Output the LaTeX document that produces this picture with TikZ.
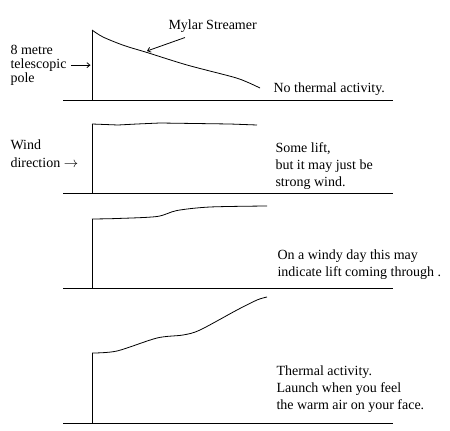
\documentclass[tikz,border=0pt]{standalone}
\usepackage{fontspec}
\setmainfont{Liberation Serif}
\usetikzlibrary{calc,arrows.meta}

\begin{document}
\begin{tikzpicture}[x=1pt,y=-1pt,line width=1pt,
  caption/.style={anchor=north west,inner sep=0pt,align=left,
    font=\fontsize{14}{17}\selectfont},
  streamer/.style={line width=0.8pt},
  pointer/.style={line width=0.8pt,-{Straight Barb[length=3pt,width=5pt]}}]
  \useasboundingbox (0,0) rectangle (450,431);

  %% Ground lines and the telescopic poles
  \foreach \i/\g/\t in {1/100/30, 2/193/124, 3/288/219, 4/423/353}
  {
    \coordinate (GL\i) at (63,\g);
    \coordinate (GR\i) at (393,\g);
    \coordinate (PB\i) at (92,\g);
    \coordinate (PT\i) at (92,\t);
    \draw (GL\i) -- (GR\i);
    \draw (PB\i) -- (PT\i);
  }

  %% Streamers
  \draw[streamer] plot[smooth] coordinates
    {(PT1) (103,37) (124,45.5) (147,52.5) (187,65) (233,77) (247,82) (260,88)};
  \draw[streamer] (PT2) -- (118,125) -- (137,124) -- (160,123)
    -- (230,124) -- (257,125);
  \draw[streamer] plot[smooth] coordinates
    {(PT3) (117,218.5) (157,216.5) (177,210.5) (210,207) (267,206)};
  \draw[streamer] plot[smooth] coordinates
    {(PT4) (117,351) (157,338) (183,335) (200,330) (237,310) (257,300) (267,297)};

  %% Labels on the left
  \coordinate (MS) at (147,51);
  \node[caption,anchor=base west] (mylar) at (168,29) {Mylar Streamer};
  \draw[pointer] ($(mylar.south west)+(17,5)$) -- (MS);

  \node[caption,font=\fontsize{14}{14}\selectfont] (polelabel) at (10,44.5)
    {8 metre\\telescopic\\pole};
  \draw[pointer] ([xshift=4pt]polelabel.east) -- ([xshift=-1.5pt]polelabel.east -| PT1);

  \node[caption,font=\fontsize{14}{18}\selectfont] (wind) at (10,139.5)
    {Wind\\direction $\rightarrow$};

  %% Comments on the right
  \node[caption,anchor=base west] (calm) at (273,92) {No thermal activity.};
  \node[caption] (somelift) at (275,142.5)
    {Some lift,\\but it may just be\\strong wind.};
  \node[caption] (windyday) at (277,249.5)
    {On a windy day this may\\indicate lift coming through .};
  \node[caption] (thermal) at (276,365.5)
    {Thermal activity.\\Launch when you feel\\the warm air on your face.};
\end{tikzpicture}
\end{document}
